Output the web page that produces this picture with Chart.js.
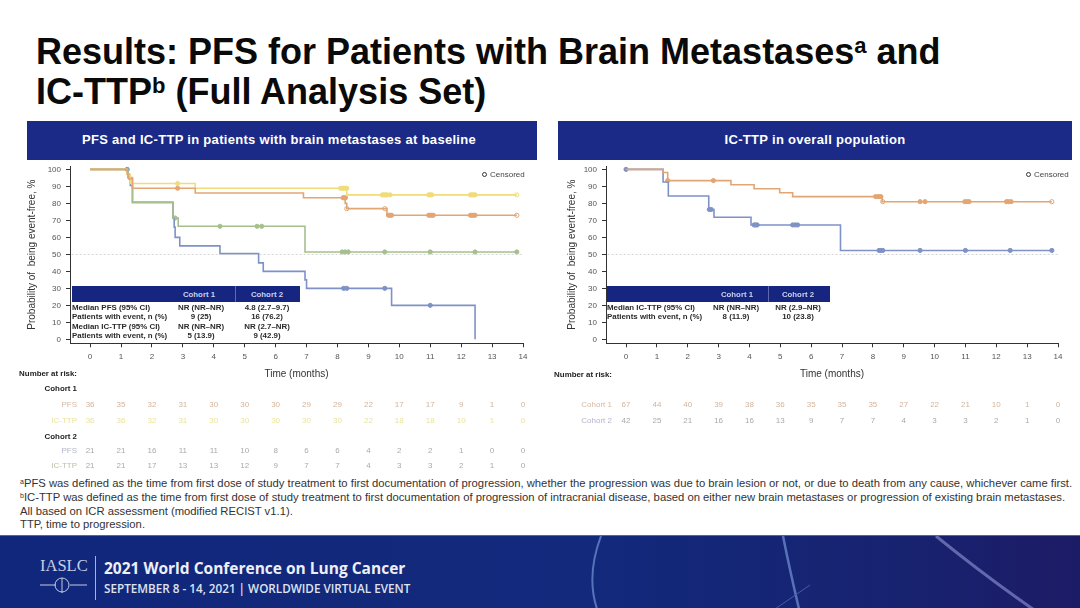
<!DOCTYPE html>
<html>
<head>
<meta charset="utf-8">
<script src="https://cdn.jsdelivr.net/npm/chart.js@4/dist/chart.umd.min.js"></script>
<style>
  html, body { margin: 0; padding: 0; background: #fff; }
  body { width: 1080px; height: 608px; position: relative; overflow: hidden; font-family: "Liberation Sans", Arial, sans-serif; }
  canvas { position: absolute; top: 160px; }
  .abs { position: absolute; white-space: nowrap; }
  .title { left: 36px; font-size: 36px; font-weight: bold; color: #0a0a0a; line-height: 40px; }
  .title sup { font-size: 22px; line-height: 0; vertical-align: 11px; }
  .head { top: 121px; height: 39px; line-height: 37px; background: #1b2a86; color: #fff; text-align: center; font-size: 13px; font-weight: bold; letter-spacing: .3px; box-sizing: border-box; }
  .tblhead { background: #16257f; height: 16px; top: 286px; }
  .tblcol { top: 286px; height: 16px; line-height: 17px; color: #c9d2ee; font-size: 7.8px; font-weight: bold; text-align: center; }
  .cell { font-size: 7.9px; font-weight: bold; color: #2a2a2a; line-height: 9px; }
  .ctr { transform: translateX(-50%); }
  .risk { font-size: 8px; line-height: 10px; transform: translate(-50%, -50%); }
  .lab { font-size: 8px; line-height: 10px; transform: translate(-100%, -50%); }
  .bold { font-weight: bold; color: #222; font-size: 7.9px; }
  .note { left: 20px; font-size: 11.28px; color: #333; line-height: 13px; }
  .note sup { font-size: 7px; line-height: 0; vertical-align: 3px; }
  #foot { left: 0; top: 535px; width: 1080px; height: 73px; background: linear-gradient(90deg, #11277b 0%, #12297c 55%, #18226f 85%, #1d1b66 100%); border-top: 1px solid #5a6592; box-sizing: border-box; overflow: hidden; }
  .ftxt { color: #eef0f8; }
</style>
</head>
<body>
<canvas id="chartLeft"></canvas>
<canvas id="chartRight"></canvas>

<div class="abs title" style="top:32px">Results: PFS for Patients with Brain Metastases<sup>a</sup> and</div>
<div class="abs title" style="top:72px">IC-TTP<sup>b</sup> (Full Analysis Set)</div>
<div class="abs head" style="left:27px;width:510px;padding-right:6px">PFS and IC-TTP in patients with brain metastases at baseline</div>
<div class="abs head" style="left:558px;width:514px">IC-TTP in overall population</div>

<div class="abs note" style="top:477px"><sup>a</sup>PFS was defined as the time from first dose of study treatment to first documentation of progression, whether the progression was due to brain lesion or not, or due to death from any cause, whichever came first.</div>
<div class="abs note" style="top:491px"><sup>b</sup>IC-TTP was defined as the time from first dose of study treatment to first documentation of progression of intracranial disease, based on either new brain metastases or progression of existing brain metastases.</div>
<div class="abs note" style="top:504.5px">All based on ICR assessment (modified RECIST v1.1).</div>
<div class="abs note" style="top:518px">TTP, time to progression.</div>

<div class="abs" id="foot">
  <svg width="1080" height="73" style="position:absolute;left:0;top:0">
    <g fill="none" stroke="#6f8ccf" opacity=".75">
      <path d="M601 0 Q586 40 597 73" stroke-width="2"/>
      <path d="M783 0 Q790 35 799 73" stroke-width="2.5"/>
      <path d="M936 0 Q985 40 1040 78" stroke="#7c7fc4" stroke-width="3"/>
      <path d="M775 73 L810 49" stroke="#5a6cc0" stroke-width="1"/>
    </g>
    <line x1="95.5" y1="20" x2="95.5" y2="64" stroke="#aab3d4" stroke-width="1"/>
    <g fill="none" stroke="#c4cbe2" stroke-width="1">
      <line x1="40" y1="49" x2="56" y2="49"/>
      <line x1="70" y1="49" x2="87" y2="49"/>
      <circle cx="62" cy="49" r="7"/>
      <line x1="62" y1="42" x2="62" y2="57"/>
    </g>
  </svg>
  <div class="abs ftxt" style="left:40px;top:20px;font:16.5px 'Liberation Serif',serif;color:#c8cee4">IASLC</div>
  <div class="abs ftxt" style="left:104px;top:21px;font:bold 15.5px 'Open Sans',sans-serif">2021 World Conference on Lung Cancer</div>
  <div class="abs ftxt" style="left:104px;top:44px;font:600 11.7px 'Open Sans',sans-serif;color:#dfe3f0">SEPTEMBER 8 - 14, 2021 | WORLDWIDE VIRTUAL EVENT</div>
</div>

<script>
// axis values
const xTicks = [0, 1, 2, 3, 4, 5, 6, 7, 8, 9, 10, 11, 12, 13, 14];
const yTicks = [0, 10, 20, 30, 40, 50, 60, 70, 80, 90, 100];
const refX = [-0.6, 14];
const refY = [50, 50];

// left chart, cohort 1 PFS
const pfsC1X = [0, 1.2, 1.25, 1.37, 3.4, 6.9, 8.25, 8.3, 9.6, 13.8];
const pfsC1Y = [100, 97.2, 94.4, 88.9, 86.1, 83.3, 80, 76.9, 73, 73];
const pfsC1CensX = [2.83, 8.18, 8.22, 8.26, 9.65, 9.7, 9.75, 10.95, 11, 11.05, 11.1, 12.3, 12.35, 12.4, 12.45];
const pfsC1CensY = [88.9, 83.3, 83.3, 83.3, 73, 73, 73, 73, 73, 73, 73, 73, 73, 73, 73];
const pfsC1OpenX = [8.3, 9.53, 13.8];
const pfsC1OpenY = [76.9, 76.9, 73];

// left chart, cohort 1 IC-TTP
const ttpC1X = [0, 1.2, 1.3, 3.4, 8.3, 13.8];
const ttpC1Y = [100, 97.2, 91.7, 88.9, 85, 85];
const ttpC1CensX = [2.83, 8.1, 8.15, 8.2, 8.25, 8.3, 9.45, 9.5, 9.55, 9.6, 9.7, 10.95, 11, 11.05, 12.3, 12.35, 12.4, 12.45];
const ttpC1CensY = [91.7, 88.9, 88.9, 88.9, 88.9, 88.9, 85, 85, 85, 85, 85, 85, 85, 85, 85, 85, 85, 85];
const ttpC1OpenX = [13.8];
const ttpC1OpenY = [85];

// left chart, cohort 2 PFS
const pfsC2X = [0, 1.22, 1.3, 1.37, 2.68, 2.72, 2.75, 2.9, 4.2, 5.45, 5.6, 6.95, 7, 9.75, 12.45];
const pfsC2Y = [100, 95.2, 90.5, 80.6, 71.4, 66, 60, 55, 50.4, 45, 40, 35, 30, 20, 0];
const pfsC2CensX = [1.2, 8.2, 8.3, 9.53, 11];
const pfsC2CensY = [100, 30, 30, 30, 20];

// left chart, cohort 2 IC-TTP
const ttpC2X = [0, 1.22, 1.37, 2.68, 2.85, 6.95, 13.8];
const ttpC2Y = [100, 95.2, 80.6, 71.4, 66.5, 51.4, 51.4];
const ttpC2CensX = [2.75, 4.2, 5.4, 5.55, 8.15, 8.25, 8.35, 9.53, 11, 12.45, 13.8];
const ttpC2CensY = [71.4, 66.5, 66.5, 66.5, 51.4, 51.4, 51.4, 51.4, 51.4, 51.4, 51.4];

// right chart, overall cohort 1 and 2
const allC1X = [0, 1.2, 1.35, 3.4, 4.15, 4.98, 5.4, 8.3, 13.8];
const allC1Y = [100, 98.2, 93.4, 91, 88.6, 86.3, 84, 81, 81];
const allC1CensX = [1.35, 2.83, 8.09, 8.18, 8.26, 9.53, 9.69, 10.98, 11.05, 11.12, 12.33, 12.4, 12.48];
const allC1CensY = [93.4, 93.4, 84, 84, 84, 81, 81, 81, 81, 81, 81, 81, 81];
const allC1OpenX = [8.32, 13.8];
const allC1OpenY = [81, 81];

const allC2X = [0, 1.2, 1.37, 2.68, 2.85, 4.05, 6.95, 13.8];
const allC2Y = [100, 92.6, 84.3, 76.4, 71.8, 67.3, 52.3, 52.3];
const allC2CensX = [0, 2.7, 2.76, 4.15, 4.2, 4.25, 5.4, 5.48, 5.56, 8.2, 8.26, 8.32, 9.53, 11, 12.45, 13.8];
const allC2CensY = [100, 76.4, 76.4, 67.3, 67.3, 67.3, 67.3, 67.3, 67.3, 52.3, 52.3, 52.3, 52.3, 52.3, 52.3, 52.3];

// number at risk
const riskPfsC1 = [36, 35, 32, 31, 30, 30, 30, 29, 29, 22, 17, 17, 9, 1, 0];
const riskTtpC1 = [36, 36, 32, 31, 30, 30, 30, 30, 30, 22, 18, 18, 10, 1, 0];
const riskPfsC2 = [21, 21, 16, 11, 11, 10, 8, 6, 6, 4, 2, 2, 1, 0, 0];
const riskTtpC2 = [21, 21, 17, 13, 13, 12, 9, 7, 7, 4, 3, 3, 2, 1, 0];
const riskAllC1 = [67, 44, 40, 39, 38, 36, 35, 35, 35, 27, 22, 21, 10, 1, 0];
const riskAllC2 = [42, 25, 21, 16, 16, 13, 9, 7, 7, 4, 3, 3, 2, 1, 0];

// summary tables
const leftTableRows = [
    ['Median PFS (95% CI)', 'NR (NR–NR)', '4.8 (2.7–9.7)'],
    ['Patients with event, n (%)', '9 (25)', '16 (76.2)'],
    ['Median IC-TTP (95% CI)', 'NR (NR–NR)', 'NR (2.7–NR)'],
    ['Patients with event, n (%)', '5 (13.9)', '9 (42.9)']
];
const rightTableRows = [
    ['Median IC-TTP (95% CI)', 'NR (NR–NR)', 'NR (2.9–NR)'],
    ['Patients with event, n (%)', '8 (11.9)', '10 (23.8)']
];

const orange = '#e2a574';
const yellow = '#f0dc7a';
const green = '#a5c08c';
const blue = '#7f92c8';

function points(xs, ys) {
    return xs.map(function(x, i) { return { x: x, y: ys[i] }; });
}

// each y holds from its x to the right, the drop is drawn at the next x
function curve(xs, ys, color) {
    return { data: points(xs, ys), showLine: true, borderColor: color, borderWidth: 1.6, stepped: 'before', pointRadius: 0, fill: false };
}

function marks(xs, ys, color, open) {
    return {
        data: points(xs, ys), showLine: false, pointRadius: 2.1, pointBorderWidth: 1,
        pointBorderColor: color, pointBackgroundColor: open ? '#fff' : color
    };
}

function refLine() {
    return { data: points(refX, refY), showLine: true, borderColor: '#c9c9c9', borderWidth: 0.8, borderDash: [2, 2], pointRadius: 0 };
}

function makeChart(id, left, width, plotLeft, plotRight, datasets) {
    const canvas = document.getElementById(id);
    canvas.width = width;
    canvas.height = 220;
    canvas.style.left = left + 'px';
    return new Chart(canvas, {
        type: 'scatter',
        data: { datasets: datasets },
        options: {
            responsive: false,
            animation: false,
            clip: false,
            layout: { padding: { left: 0, right: width - plotRight, top: 6, bottom: 0 } },
            plugins: { legend: { display: false }, tooltip: { enabled: false } },
            scales: {
                x: {
                    type: 'linear',
                    min: -0.65,
                    max: 14,
                    afterBuildTicks: function(s) { s.ticks = xTicks.map(function(v) { return { value: v }; }); },
                    afterFit: function(s) { s.height = 36.7; s.paddingLeft = 0; s.paddingRight = 0; },
                    grid: { display: true, drawOnChartArea: false, drawTicks: true, tickLength: 4, color: '#333', lineWidth: 1 },
                    border: { display: true, color: '#333', width: 1 },
                    ticks: { color: '#555', font: { size: 8 }, padding: 5, autoSkip: false, maxRotation: 0, callback: function(v) { return v; } },
                    title: { display: true, text: 'Time (months)', color: '#333', font: { size: 10 }, padding: 0 }
                },
                y: {
                    type: 'linear',
                    min: -2.35,
                    max: 102,
                    afterBuildTicks: function(s) { s.ticks = yTicks.map(function(v) { return { value: v }; }); },
                    afterFit: function(s) { s.width = plotLeft; s.paddingTop = 0; s.paddingBottom = 0; },
                    grid: { display: true, drawOnChartArea: false, drawTicks: true, tickLength: 4, color: '#333', lineWidth: 1 },
                    border: { display: true, color: '#333', width: 1 },
                    ticks: { color: '#555', font: { size: 8 }, padding: 5, autoSkip: false, callback: function(v) { return v; } },
                    title: { display: true, text: 'Probability of  being event-free, %', color: '#333', font: { size: 10 }, padding: { top: 26, bottom: 0 } }
                }
            }
        }
    });
}

const chartLeft = makeChart('chartLeft', 0, 540, 70, 523, [
    refLine(),
    curve(pfsC1X, pfsC1Y, orange),
    curve(ttpC1X, ttpC1Y, yellow),
    curve(ttpC2X, ttpC2Y, green),
    curve(pfsC2X, pfsC2Y, blue),
    marks(pfsC1CensX, pfsC1CensY, orange),
    marks(pfsC1OpenX, pfsC1OpenY, orange, true),
    marks(ttpC1CensX, ttpC1CensY, yellow),
    marks(ttpC1OpenX, ttpC1OpenY, yellow, true),
    marks(ttpC2CensX, ttpC2CensY, green),
    marks(pfsC2CensX, pfsC2CensY, blue)
]);

const chartRight = makeChart('chartRight', 540, 540, 66, 518, [
    refLine(),
    curve(allC1X, allC1Y, orange),
    curve(allC2X, allC2Y, blue),
    marks(allC1CensX, allC1CensY, orange),
    marks(allC1OpenX, allC1OpenY, orange, true),
    marks(allC2CensX, allC2CensY, blue)
]);

function addText(cls, text, left, top, color) {
    const el = document.createElement('div');
    el.className = 'abs ' + cls;
    el.textContent = text;
    el.style.left = left + 'px';
    el.style.top = top + 'px';
    if (color) el.style.color = color;
    document.body.appendChild(el);
    return el;
}

// number at risk rows follow the x scale of their chart
function riskRow(chart, offset, labelRight, label, values, top, labelColor, numColor) {
    addText('lab', label, labelRight, top, labelColor);
    values.forEach(function(v, i) {
        addText('risk', v, offset + chart.scales.x.getPixelForValue(xTicks[i]), top, numColor);
    });
}

addText('lab bold', 'Number at risk:', 77, 374);
addText('lab bold', 'Cohort 1', 77, 389);
riskRow(chartLeft, 0, 77, 'PFS', riskPfsC1, 405, '#d8b7a0', '#d3b49c');
riskRow(chartLeft, 0, 77, 'IC-TTP', riskTtpC1, 421, '#ece29c', '#ece29c');
addText('lab bold', 'Cohort 2', 77, 437);
riskRow(chartLeft, 0, 77, 'PFS', riskPfsC2, 451, '#b3b5cc', '#aaa');
riskRow(chartLeft, 0, 77, 'IC-TTP', riskTtpC2, 466, '#b9c2a4', '#aaa');

addText('lab bold', 'Number at risk:', 612, 375);
riskRow(chartRight, 540, 612, 'Cohort 1', riskAllC1, 405, '#d8b7a0', '#d3b49c');
riskRow(chartRight, 540, 612, 'Cohort 2', riskAllC2, 421, '#b3b5cc', '#aaa');

// summary tables sit on top of the plots
function summaryTable(rows, x0, x1, divider, rightEnd, col1, col2, head1, head2) {
    const bar = addText('tblhead', '', x0, 286);
    bar.style.width = (rightEnd - x0) + 'px';
    const line = addText('tblhead', '', divider, 286);
    line.style.width = '1px';
    line.style.background = '#5d6ab0';
    addText('tblcol ctr', 'Cohort 1', head1, 286);
    addText('tblcol ctr', 'Cohort 2', head2, 286);
    rows.forEach(function(r, i) {
        const top = 302.5 + i * 9.6;
        addText('cell', r[0], x1, top);
        addText('cell ctr', r[1], col1, top);
        addText('cell ctr', r[2], col2, top);
    });
}
summaryTable(leftTableRows, 72, 72, 234.5, 300, 201, 267, 199, 267);
summaryTable(rightTableRows, 607, 607, 768, 830, 736, 798, 737, 798);

// censored keys
function censorKey(x) {
    const dot = addText('', '', x, 172);
    dot.style.width = '3px';
    dot.style.height = '3px';
    dot.style.border = '1.2px solid #333';
    dot.style.borderRadius = '50%';
    addText('', 'Censored', x + 8, 169.5, '#444').style.fontSize = '8px';
}
censorKey(482);
censorKey(1026);
</script>
</body>
</html>
